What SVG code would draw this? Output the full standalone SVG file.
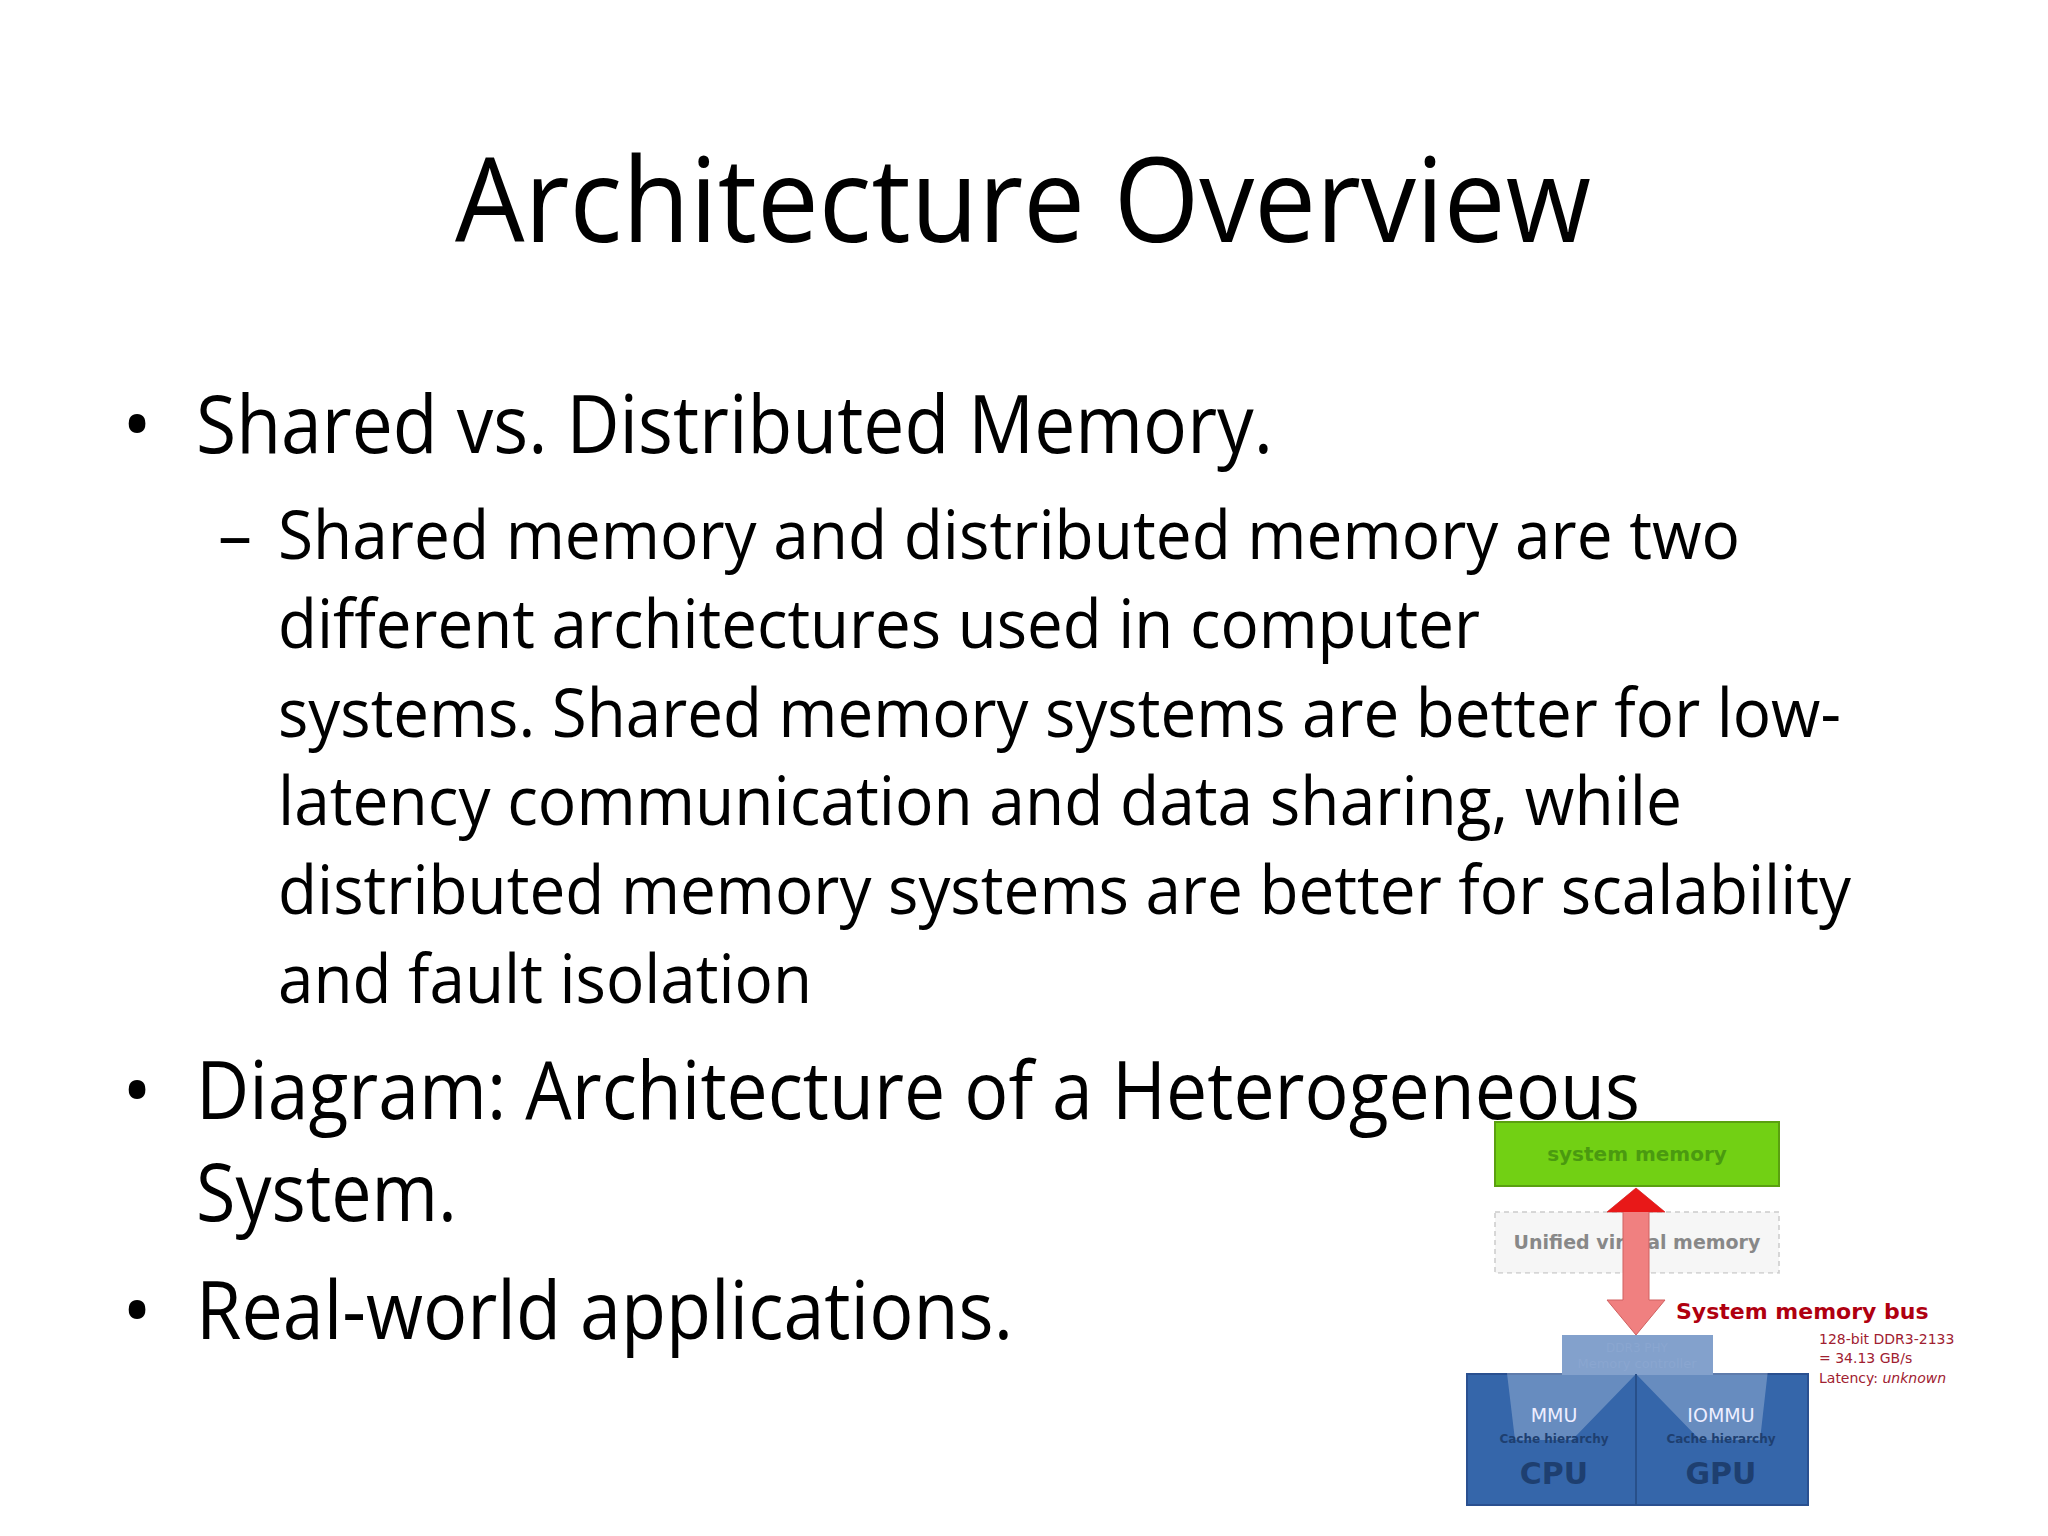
<svg xmlns="http://www.w3.org/2000/svg" width="2048" height="1536" viewBox="0 0 2048 1536">
<style>
.t{font-family:"Open Sans","Liberation Sans",sans-serif;fill:#000}
.b{font-size:80px}
.s{font-size:68px}
.d{font-family:"DejaVu Sans",sans-serif;font-weight:bold}
</style>
<rect width="2048" height="1536" fill="#fff"/>
<text class="t" x="1023" y="242" font-size="118" text-anchor="middle" textLength="1136" lengthAdjust="spacingAndGlyphs">Architecture Overview</text>
<g id="text">
<text class="t b" x="122" y="453">•</text>
<text class="t b" x="196" y="453" textLength="1077" lengthAdjust="spacingAndGlyphs">Shared vs. Distributed Memory.</text>
<text class="t s" x="218" y="559">–</text>
<text class="t s" x="278" y="559" textLength="1462" lengthAdjust="spacingAndGlyphs">Shared memory and distributed memory are two</text>
<text class="t s" x="278" y="648" textLength="1202" lengthAdjust="spacingAndGlyphs">different architectures used in computer</text>
<text class="t s" x="278" y="737" textLength="1563" lengthAdjust="spacingAndGlyphs">systems. Shared memory systems are better for low-</text>
<text class="t s" x="278" y="825" textLength="1404" lengthAdjust="spacingAndGlyphs">latency communication and data sharing, while</text>
<text class="t s" x="278" y="914" textLength="1573" lengthAdjust="spacingAndGlyphs">distributed memory systems are better for scalability</text>
<text class="t s" x="278" y="1003" textLength="534" lengthAdjust="spacingAndGlyphs">and fault isolation</text>
<text class="t b" x="122" y="1119">•</text>
<text class="t b" x="196" y="1119" textLength="1444" lengthAdjust="spacingAndGlyphs">Diagram: Architecture of a Heterogeneous</text>
<text class="t b" x="196" y="1221" textLength="261" lengthAdjust="spacingAndGlyphs">System.</text>
<text class="t b" x="122" y="1339">•</text>
<text class="t b" x="196" y="1339" textLength="817" lengthAdjust="spacingAndGlyphs">Real-world applications.</text>
</g>
<g id="sysmem">
<rect x="1495" y="1122" width="284" height="64" fill="#72d014" stroke="#5aa010" stroke-width="2"/>
<text class="d" x="1637" y="1161" font-size="20" fill="#4a9a10" text-anchor="middle">system memory</text>
</g>
<g id="uvm">
<rect x="1495" y="1212" width="284" height="61" fill="#f6f6f6" stroke="#ccc" stroke-width="1.5" stroke-dasharray="5,4"/>
<text class="d" x="1637" y="1249" font-size="19" fill="#888" text-anchor="middle">Unified virtual memory</text>
</g>
<g id="cpugpu">
<rect x="1467" y="1374" width="341" height="131" fill="#3566aa" stroke="#2a5090" stroke-width="2"/>
<rect x="1562" y="1335" width="151" height="40" fill="#5a82bb"/>
<polygon points="1495,1273 1779,1273 1760,1440 1700,1440 1636,1374 1572,1440 1515,1440" fill="#fff" opacity="0.25"/>
<line x1="1636" y1="1374" x2="1636" y2="1505" stroke="#28508a" stroke-width="2"/>
<text x="1637" y="1352" font-family="DejaVu Sans,sans-serif" font-size="12" fill="#8aa6d0" text-anchor="middle">DDR3 PHY</text>
<text x="1637" y="1368" font-family="DejaVu Sans,sans-serif" font-size="13" fill="#8aa6d0" text-anchor="middle">Memory controller</text>
<text x="1554" y="1422" font-family="DejaVu Sans,sans-serif" font-size="19" fill="#eef" text-anchor="middle">MMU</text>
<text x="1721" y="1422" font-family="DejaVu Sans,sans-serif" font-size="19" fill="#eef" text-anchor="middle">IOMMU</text>
<text class="d" x="1554" y="1443" font-size="12" fill="#1e3f70" text-anchor="middle">Cache hierarchy</text>
<text class="d" x="1721" y="1443" font-size="12" fill="#1e3f70" text-anchor="middle">Cache hierarchy</text>
<text class="d" x="1554" y="1484" font-size="30" fill="#1e3f70" text-anchor="middle">CPU</text>
<text class="d" x="1721" y="1484" font-size="30" fill="#1e3f70" text-anchor="middle">GPU</text>
</g>
<g id="connectors">
<polygon points="1636,1188 1665,1212 1649,1212 1649,1300 1665,1300 1636,1335 1607,1300 1623,1300 1623,1212 1607,1212" fill="#f08080" stroke="#d06060" stroke-width="1"/>
<polygon points="1636,1188 1665,1212 1607,1212" fill="#e81818"/>
</g>
<g id="buslabel">
<text class="d" x="1676" y="1319" font-size="22" fill="#b00010">System memory bus</text>
<text x="1819" y="1344" font-family="DejaVu Sans,sans-serif" font-size="14" fill="#a02030">128-bit DDR3-2133</text>
<text x="1819" y="1363" font-family="DejaVu Sans,sans-serif" font-size="14" fill="#a02030">= 34.13 GB/s</text>
<text x="1819" y="1383" font-family="DejaVu Sans,sans-serif" font-size="14" fill="#a02030">Latency: <tspan font-style="italic">unknown</tspan></text>
</g>
</svg>
